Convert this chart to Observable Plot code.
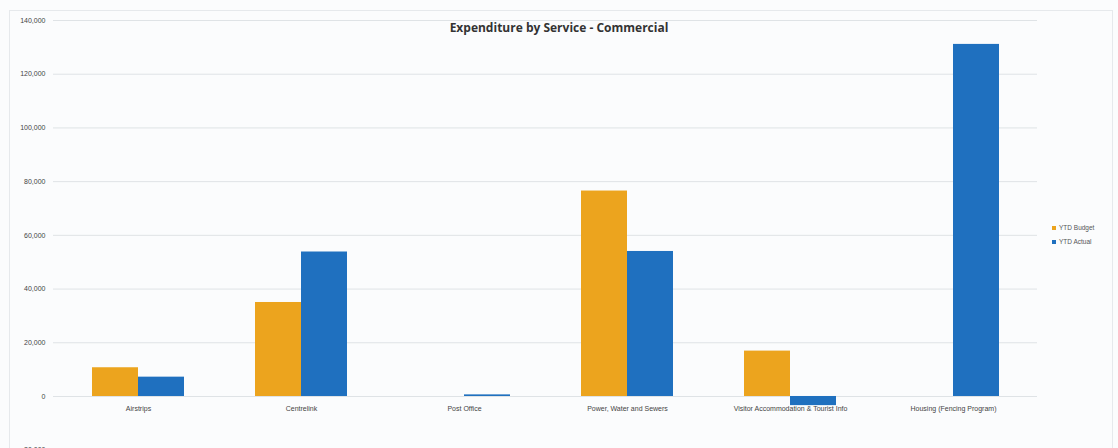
<!DOCTYPE html>
<html>
<head>
<meta charset="utf-8">
<script src="https://cdn.jsdelivr.net/npm/d3@7"></script>
<script src="https://cdn.jsdelivr.net/npm/@observablehq/plot@0.6"></script>
<style>
  html, body { margin: 0; padding: 0; background: #fbfcfd; }
  #wrap { position: relative; width: 1118px; height: 448px; overflow: hidden; font-family: "Liberation Sans", Arial, sans-serif; }
  #frame { position: absolute; left: 9px; top: 10px; width: 1104px; height: 460px; border: 1px solid #e6e9ec; box-sizing: border-box; pointer-events: none; }
  #title { position: absolute; left: 0; width: 1118px; top: 19px; text-align: center; font-family: "Open Sans", sans-serif; font-weight: 700; font-size: 12px; color: #333; }
  #legend { position: absolute; left: 1052px; top: 221px; font-size: 6.5px; color: #555; line-height: 14px; }
  #legend span.sw { display: inline-block; width: 4px; height: 4px; margin-right: 3px; vertical-align: middle; }
</style>
</head>
<body>
<div id="wrap"><div id="frame"></div></div>
<script>
const categories = ["Airstrips", "Centrelink", "Post Office", "Power, Water and Sewers", "Visitor Accommodation & Tourist Info", "Housing (Fencing Program)"];
const ytdBudget = [10700, 35000, 0, 76500, 16900, 0];
const ytdActual = [7200, 53800, 600, 54000, -3400, 131100];
const seriesNames = ["YTD Budget", "YTD Actual"];
const seriesColors = ["#eca41e", "#1f70bf"];
const yTicks = [-20000, 0, 20000, 40000, 60000, 80000, 100000, 120000, 140000];
const chartTitle = "Expenditure by Service - Commercial";

const budgetRows = categories.map((c, i) => ({category: c, value: ytdBudget[i]}));
const actualRows = categories.map((c, i) => ({category: c, value: ytdActual[i]}));

const chart = Plot.plot({
  width: 1118,
  height: 448,
  marginLeft: 53,
  marginRight: 81,
  marginTop: 20,
  marginBottom: 0,
  style: {background: "transparent", fontFamily: "Liberation Sans, Arial, sans-serif", fontSize: "7px", color: "#444"},
  x: {domain: categories, paddingInner: 0.437, paddingOuter: 0.2326, axis: null},
  y: {domain: [-20000, 140000], range: [449.7, 20], ticks: yTicks, tickFormat: d3.format(","), tickSize: 0, tickPadding: 8, label: null, grid: false},
  marks: [
    Plot.ruleY(yTicks, {stroke: "#dfe3e6", strokeWidth: 1}),
    Plot.ruleX([0], {x: () => null, frameAnchor: "left", stroke: "#e8ebee"}),
    Plot.barY(budgetRows, {x: "category", y: "value", fill: seriesColors[0], insetRight: 46}),
    Plot.barY(actualRows, {x: "category", y: "value", fill: seriesColors[1], insetLeft: 46}),
    Plot.text(categories, {x: d => d, y: 0, dy: 12, text: d => d, fill: "#444", fontSize: 7})
  ]
});

const wrap = document.getElementById("wrap");
wrap.appendChild(chart);
chart.style.position = "absolute";
chart.style.left = "0";
chart.style.top = "0";

const title = document.createElement("div");
title.id = "title";
title.textContent = chartTitle;
wrap.appendChild(title);

const legend = document.createElement("div");
legend.id = "legend";
seriesNames.forEach((n, i) => {
  const row = document.createElement("div");
  const sw = document.createElement("span");
  sw.className = "sw";
  sw.style.background = seriesColors[i];
  row.appendChild(sw);
  row.appendChild(document.createTextNode(n));
  legend.appendChild(row);
});
wrap.appendChild(legend);
</script>
</body>
</html>
